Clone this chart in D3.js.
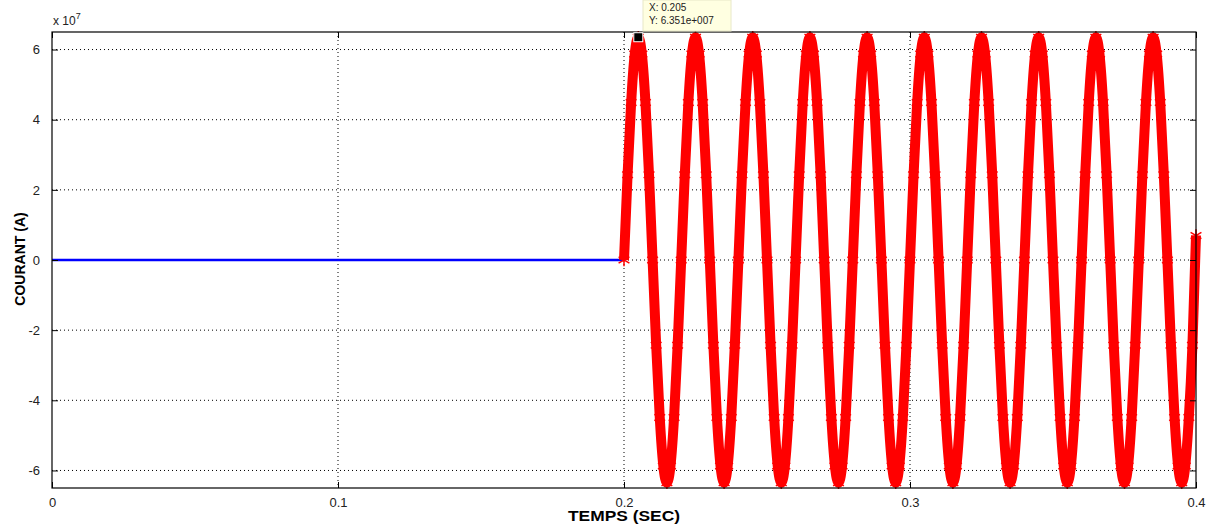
<!DOCTYPE html>
<html><head><meta charset="utf-8">
<script src="https://cdn.jsdelivr.net/npm/d3@7"></script>
<style>body{margin:0;background:#fff;}svg{display:block;font-family:"Liberation Sans",Arial,sans-serif;}</style>
</head><body>
<svg id="c" width="1211" height="526"></svg>
<script>
// Data (current in units of 1e7 A), sampled every 0.00125 s
const blueTime = [0, 0.05, 0.1, 0.15, 0.2];
const blueValues = [0, 0, 0, 0, 0];
const redStart = 0.2, redStep = 0.00125;
const redValues = [
0,2.43,4.49,5.87,6.35,5.87,4.49,2.43,0,-2.43,-4.49,-5.87,-6.35,-5.87,-4.49,-2.43,
0,2.43,4.49,5.87,6.35,5.87,4.49,2.43,0,-2.43,-4.49,-5.87,-6.35,-5.87,-4.49,-2.43,
0,2.43,4.49,5.87,6.35,5.87,4.49,2.43,0,-2.43,-4.49,-5.87,-6.35,-5.87,-4.49,-2.43,
0,2.43,4.49,5.87,6.35,5.87,4.49,2.43,0,-2.43,-4.49,-5.87,-6.35,-5.87,-4.49,-2.43,
0,2.43,4.49,5.87,6.35,5.87,4.49,2.43,0,-2.43,-4.49,-5.87,-6.35,-5.87,-4.49,-2.43,
0,2.43,4.49,5.87,6.35,5.87,4.49,2.43,0,-2.43,-4.49,-5.87,-6.35,-5.87,-4.49,-2.43,
0,2.43,4.49,5.87,6.35,5.87,4.49,2.43,0,-2.43,-4.49,-5.87,-6.35,-5.87,-4.49,-2.43,
0,2.43,4.49,5.87,6.35,5.87,4.49,2.43,0,-2.43,-4.49,-5.87,-6.35,-5.87,-4.49,-2.43,
0,2.43,4.49,5.87,6.35,5.87,4.49,2.43,0,-2.43,-4.49,-5.87,-6.35,-5.87,-4.49,-2.43,
0,2.43,4.49,5.87,6.35,5.87,4.49,2.43,0,-2.43,-4.49,-5.87,-6.35,-5.87,-4.49,-2.43,
0.7];
const xTicks = [0, 0.1, 0.2, 0.3, 0.4];
const xTickLabels = ["0", "0.1", "0.2", "0.3", "0.4"];
const yTicks = [-6, -4, -2, 0, 2, 4, 6];
const yTickLabels = ["-6", "-4", "-2", "0", "2", "4", "6"];
const tipX = 0.205, tipY = 6.351;
const tipLines = ["X: 0.205", "Y: 6.351e+007"];

const svg = d3.select("#c");
const L = 52, R = 1196, T = 32, B = 488;
const x = d3.scaleLinear().domain([0, 0.4]).range([L, R]);
const y = d3.scaleLinear().domain([-6.5, 6.5]).range([B, T]);

// grid
const g = svg.append("g");
xTicks.forEach(t => {
  if (t > 0 && t < 0.4) g.append("line").attr("x1", x(t)).attr("x2", x(t)).attr("y1", T).attr("y2", B)
    .attr("stroke", "#000").attr("stroke-width", 1).attr("stroke-dasharray", "1,3");
});
yTicks.forEach(t => {
  g.append("line").attr("x1", L).attr("x2", R).attr("y1", y(t)).attr("y2", y(t))
    .attr("stroke", "#000").attr("stroke-width", 1).attr("stroke-dasharray", "1,3");
});

// blue line
const line = d3.line().x(d => x(d[0])).y(d => y(d[1]));
svg.append("path").datum(blueTime.map((t, i) => [t, blueValues[i]]))
  .attr("d", line).attr("fill", "none").attr("stroke", "#0000ff").attr("stroke-width", 2.5);

// red line
const redData = redValues.map((v, i) => [redStart + i * redStep, v]);
const curve = d3.line().x(d => x(d[0])).y(d => y(d[1])).curve(d3.curveNatural);
svg.append("path").datum(redData).attr("d", curve).attr("fill", "none")
  .attr("stroke", "#ff0000").attr("stroke-width", 10);
const star = d3.symbol().type(d3.symbolAsterisk).size(110);
svg.append("g").selectAll("path").data(redData).join("path")
  .attr("transform", d => `translate(${x(d[0])},${y(d[1])})`)
  .attr("d", star).attr("fill", "none").attr("stroke", "#ff0000").attr("stroke-width", 1.5);

// axes box
svg.append("rect").attr("x", L).attr("y", T).attr("width", R - L).attr("height", B - T)
  .attr("fill", "none").attr("stroke", "#000").attr("stroke-width", 1.2);

// axes with inward ticks
const xAxis = d3.axisBottom(x).tickValues(xTicks).tickFormat((d, i) => xTickLabels[i]).tickSizeInner(-6).tickSizeOuter(0).tickPadding(10);
const xa = svg.append("g").attr("transform", `translate(0,${B})`).call(xAxis);
const yAxis = d3.axisLeft(y).tickValues(yTicks).tickFormat((d, i) => yTickLabels[i]).tickSizeInner(-6).tickSizeOuter(0).tickPadding(12);
const ya = svg.append("g").attr("transform", `translate(${L},0)`).call(yAxis);
[xa, ya].forEach(a => {
  a.select(".domain").remove();
  a.selectAll("text").attr("font-size", 13).attr("fill", "#222").attr("font-family", "Liberation Sans, Arial, sans-serif");
  a.selectAll("line").attr("stroke", "#000");
});
// top & right ticks
const xt = svg.append("g").attr("transform", `translate(0,${T})`).call(d3.axisTop(x).tickValues(xTicks).tickFormat("").tickSizeInner(-6).tickSizeOuter(0));
const yr = svg.append("g").attr("transform", `translate(${R},0)`).call(d3.axisRight(y).tickValues(yTicks).tickFormat("").tickSizeInner(-6).tickSizeOuter(0));
[xt, yr].forEach(a => { a.select(".domain").remove(); a.selectAll("line").attr("stroke", "#000"); });

// exponent
const ex = svg.append("text").attr("x", 53).attr("y", 25).attr("font-size", 12).attr("fill", "#222");
ex.append("tspan").text("x 10");
ex.append("tspan").attr("dy", -6).attr("font-size", 9).text("7");

// axis labels
svg.append("text").attr("x", 568).attr("y", 521)
  .attr("font-size", 14).attr("font-weight", "bold")
  .attr("textLength", 112).attr("lengthAdjust", "spacingAndGlyphs").text("TEMPS (SEC)");
svg.append("text").attr("transform", `translate(25,${y(0) - 1}) rotate(-90)`).attr("text-anchor", "middle")
  .attr("font-size", 14).attr("font-weight", "bold").text("COURANT (A)");

// data tip
svg.append("rect").attr("x", x(tipX) - 4.5).attr("y", y(tipY) - 4.5).attr("width", 9).attr("height", 9)
  .attr("fill", "#000").attr("stroke", "#fff").attr("stroke-width", 1);
svg.append("rect").attr("x", 643).attr("y", 0).attr("width", 88).attr("height", 31)
  .attr("fill", "#ffffe1").attr("stroke", "#e8e8c8");
tipLines.forEach((s, i) => svg.append("text").attr("x", 649).attr("y", 11 + i * 13)
  .attr("font-size", 10).attr("fill", "#222").text(s));
</script>
</body></html>
